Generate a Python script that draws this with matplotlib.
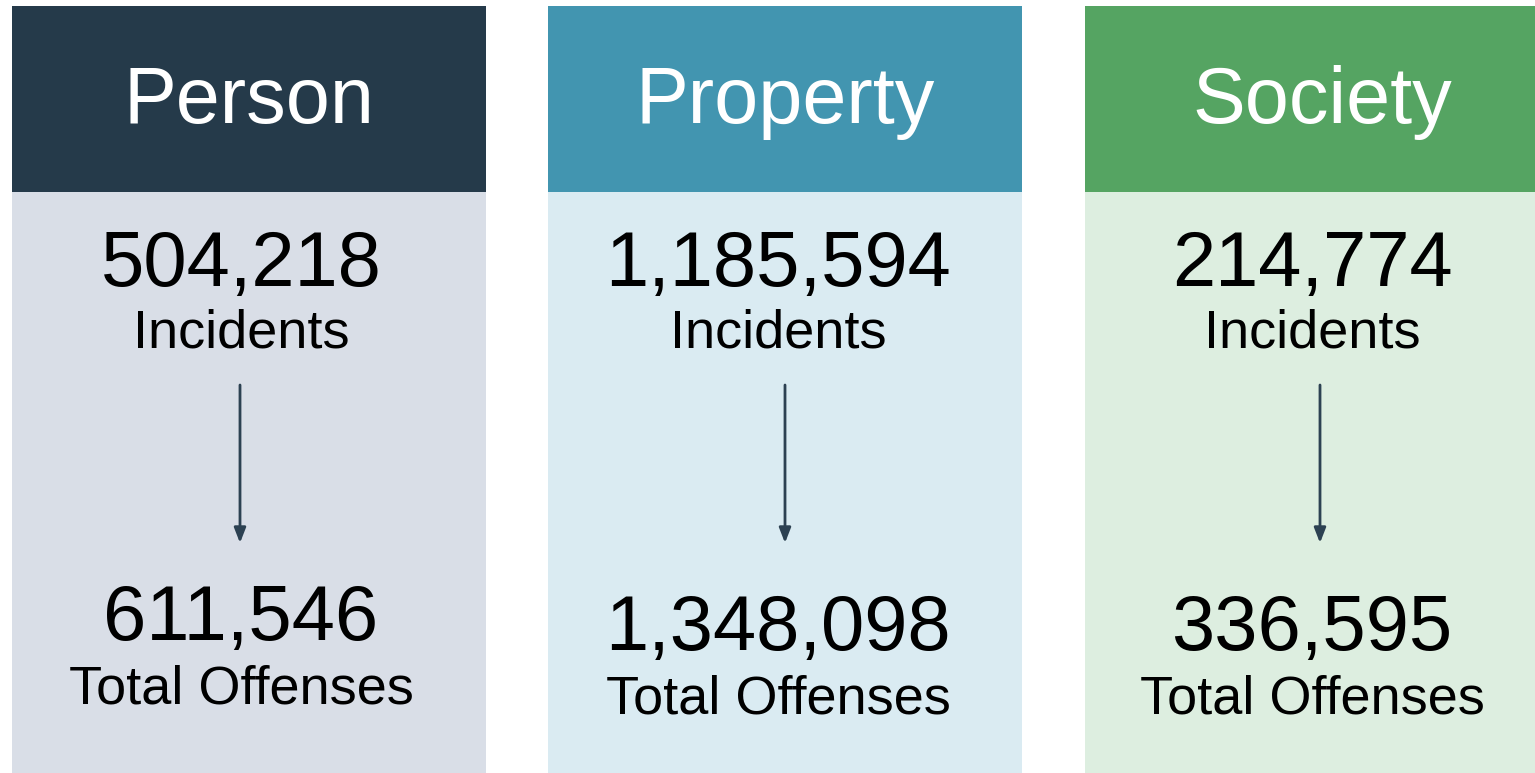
import matplotlib.pyplot as plt
from matplotlib.patches import Rectangle

# Summary figures per crime category
categories = ["Person", "Property", "Society"]
incidents = [504218, 1185594, 214774]
offenses = [611546, 1348098, 336595]

header_colors = ["#253a4a", "#4295b0", "#55a462"]
body_colors = ["#d9dee7", "#daebf2", "#ddeee0"]

plt.rcParams["font.family"] = ["Liberation Sans", "DejaVu Sans"]

W, H = 1535, 773
fig = plt.figure(figsize=(W / 100, H / 100), dpi=100)
ax = fig.add_axes([0, 0, 1, 1])
ax.set_xlim(0, W)
ax.set_ylim(H, 0)
ax.axis("off")

# Layout in pixels
lefts = [12, 548, 1085]
width = 474
top, head_bottom = 6, 192
text_shift = [-8, -7, -10]
arrow_shift = [-9, 0, -2]
lower_shift = [0, 10, 10]

for i, cat in enumerate(categories):
    x0 = lefts[i]
    cx = x0 + width / 2
    ax.add_patch(Rectangle((x0, top), width, head_bottom - top,
                           facecolor=header_colors[i], edgecolor="none"))
    ax.add_patch(Rectangle((x0, head_bottom), width, H - head_bottom + 5,
                           facecolor=body_colors[i], edgecolor="none"))

    ax.text(cx, 123, cat, color="white", fontsize=57, ha="center", va="baseline")

    tx = cx + text_shift[i]
    ax.text(tx, 286, f"{incidents[i]:,}", color="black", fontsize=56,
            ha="center", va="baseline")
    ax.text(tx, 348, "Incidents", color="black", fontsize=39,
            ha="center", va="baseline")

    d = lower_shift[i]
    ax.text(tx, 640 + d, f"{offenses[i]:,}", color="black", fontsize=56,
            ha="center", va="baseline")
    ax.text(tx, 703 + d, "Total Offenses", color="black", fontsize=39,
            ha="center", va="baseline")

    axx = cx + arrow_shift[i]
    ax.annotate("", xy=(axx, 543), xytext=(axx, 385),
                arrowprops=dict(arrowstyle="-|>,head_length=0.9,head_width=0.35",
                                color="#2c4152", lw=2, shrinkA=0, shrinkB=0))

fig.savefig("out.png", dpi=100)
